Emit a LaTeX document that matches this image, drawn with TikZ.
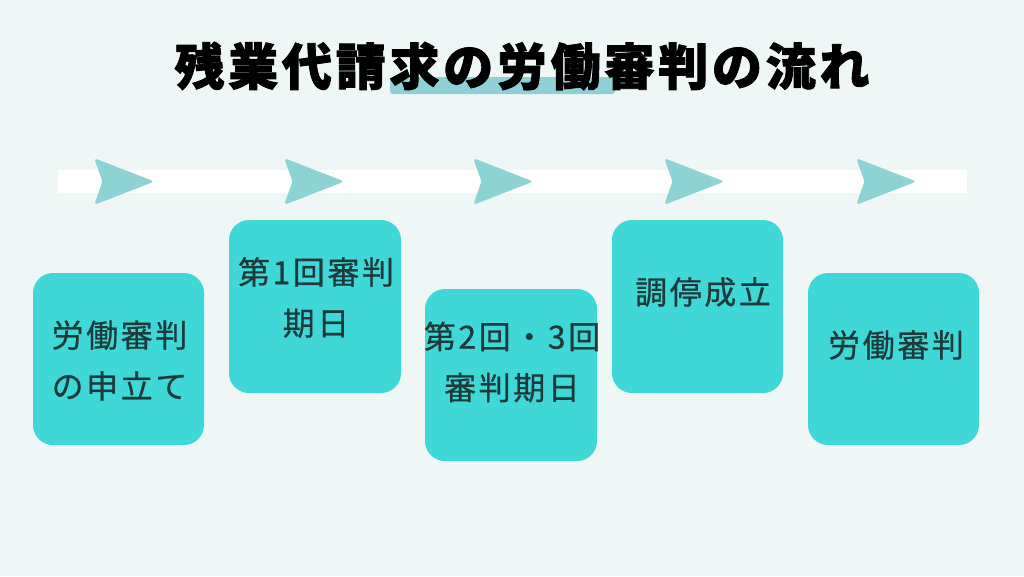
\documentclass[tikz,border=0pt]{standalone}
\usepackage{fontspec}
\newfontfamily\cjkbox[LetterSpace=8, FakeBold=0.6]{Noto Sans CJK JP}
\newfontfamily\cjktitle[LetterSpace=7.5, BoldFeatures={FakeBold=1.8}]{Noto Sans CJK JP}
\definecolor{bgc}{HTML}{EEF6F6}
\definecolor{boxc}{HTML}{3FD8D6}
\definecolor{arrc}{HTML}{8DD3D6}
\definecolor{barc}{HTML}{8FD0D6}
\definecolor{txtc}{HTML}{1C3A3A}
\tikzset{
  stepbox/.style={fill=boxc, draw=none, rounded corners=20pt, inner sep=0pt},
  boxtext/.style={text=txtc, align=center, inner sep=0pt, font=\cjkbox\fontsize{32}{51}\selectfont},
  headarrow/.style={fill=arrc, draw=arrc, line width=1pt, rounded corners=2.5pt},
}
\begin{document}
\begin{tikzpicture}[x=1pt,y=-1pt]
\fill[bgc] (0,0) rectangle (1024,576);
\useasboundingbox (0,0) rectangle (1024,576);
% title highlight
\fill[barc, rounded corners=3pt] (390,77) rectangle (615,94);
\node[text=black, inner sep=0pt, font=\cjktitle\bfseries\fontsize{50}{50}\selectfont] (title) at (522,66) {残業代請求の労働審判の流れ};
% band
\fill[white] (58,170) rectangle (967,193);
% arrow heads
\foreach \x in {95,285,474,665,857}{
  \filldraw[headarrow] (\x,159) -- (\x+58,181.5) -- (\x,204) -- (\x+8,181.5) -- cycle;
}
% boxes
\node[stepbox, minimum width=171pt, minimum height=172pt] (b1) at (118.5,359) {};
\node[stepbox, minimum width=172pt, minimum height=173pt] (b2) at (315,306.5) {};
\node[stepbox, minimum width=172pt, minimum height=172pt] (b3) at (511,375) {};
\node[stepbox, minimum width=171pt, minimum height=173pt] (b4) at (697.5,306.5) {};
\node[stepbox, minimum width=171pt, minimum height=172pt] (b5) at (893.5,359) {};
% texts
\node[boxtext] (t1) at (119.5,360.5) {労働審判\\の申立て};
\node[boxtext] (t2) at (316,297.5) {第1回審判\\期日};
\node[boxtext] (t3) at (512,362) {第2回・3回\\審判期日};
\node[boxtext] (t4) at (703,292) {調停成立};
\node[boxtext] (t5) at (896,345) {労働審判};
\end{tikzpicture}
\end{document}
